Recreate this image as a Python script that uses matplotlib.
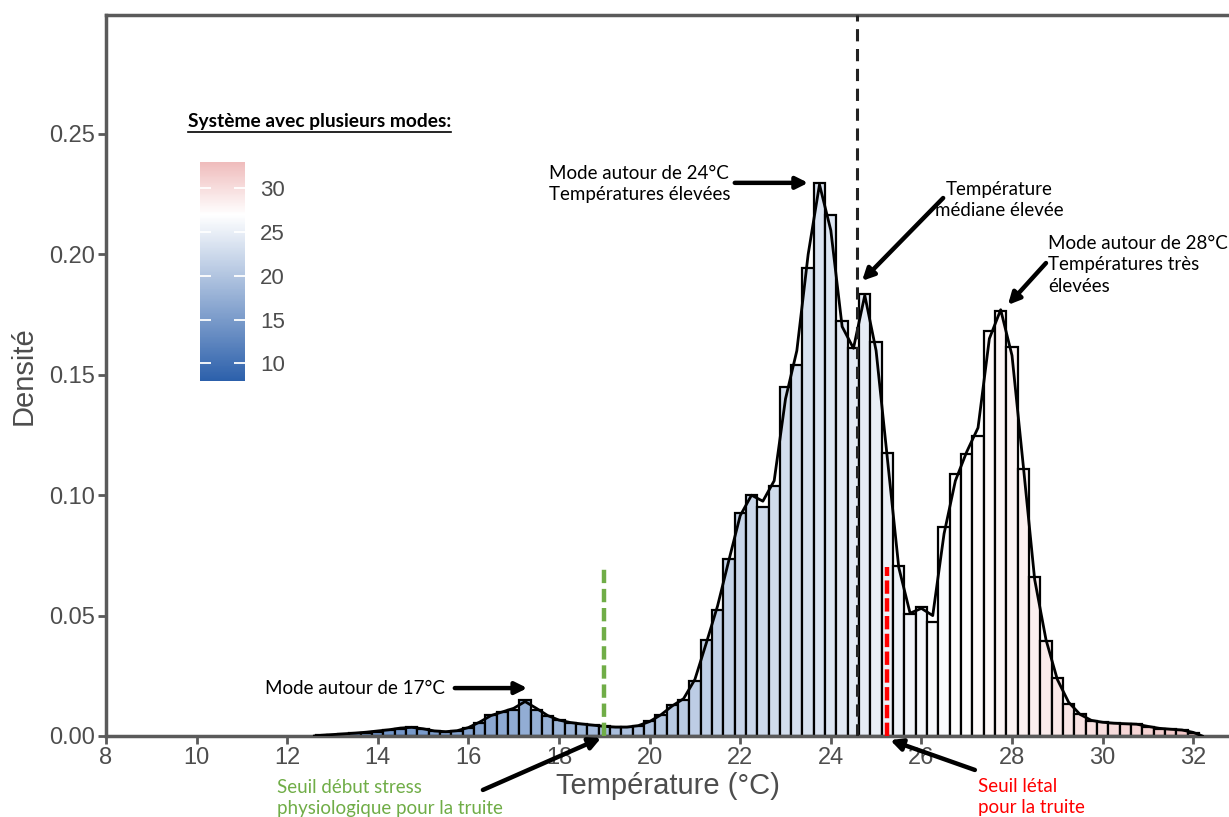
import numpy as np
import matplotlib.pyplot as plt
from matplotlib.colors import LinearSegmentedColormap, Normalize
from matplotlib.cm import ScalarMappable
from matplotlib.lines import Line2D

plt.rcParams['font.family'] = ['Liberation Sans', 'DejaVu Sans']

# histogram bins (width 0.25 °C), bin centres and densities
bin_w = 0.25
centers = np.arange(12.75, 32.0 + 0.01, bin_w)
dens = [0.0004, 0.0006, 0.0008, 0.0011, 0.0014, 0.0018, 0.0024, 0.0030,
        0.0038, 0.0030, 0.0020, 0.0017, 0.0021, 0.0034, 0.0055, 0.0088,
        0.0100, 0.0110, 0.0150, 0.0110, 0.0082, 0.0066, 0.0055, 0.0050,
        0.0046, 0.0042, 0.0036, 0.0036, 0.0042, 0.0064, 0.0088, 0.0130,
        0.0148, 0.0228, 0.0400, 0.0523, 0.0735, 0.0925, 0.1000, 0.0950,
        0.1040, 0.1450, 0.1540, 0.1945, 0.2297, 0.2164, 0.1725, 0.1610,
        0.1835, 0.1635, 0.1175, 0.0704, 0.0508, 0.0536, 0.0474, 0.0868,
        0.1086, 0.1169, 0.1247, 0.1680, 0.1765, 0.1616, 0.1110, 0.0660,
        0.0393, 0.0240, 0.0134, 0.0090, 0.0062, 0.0057, 0.0053, 0.0050,
        0.0050, 0.0038, 0.0030, 0.0027, 0.0026, 0.0014]

# density curve
kde_x = [12.6] + list(centers) + [32.2]
kde_y = [0.0, 0.0003, 0.0006, 0.0009, 0.0012, 0.0016, 0.0021, 0.0026, 0.0033,
         0.0036, 0.0030, 0.0021, 0.0018, 0.0022, 0.0035, 0.0058, 0.0085,
         0.0100, 0.0115, 0.0143, 0.0115, 0.0085, 0.0066, 0.0056, 0.0050,
         0.0045, 0.0040, 0.0037, 0.0037, 0.0043, 0.0060, 0.0088, 0.0125,
         0.0155, 0.0235, 0.0385, 0.0540, 0.0730, 0.0915, 0.1000, 0.0975,
         0.1060, 0.1400, 0.1600, 0.2000, 0.2290, 0.2100, 0.1700, 0.1610,
         0.1830, 0.1600, 0.1150, 0.0700, 0.0510, 0.0530, 0.0500, 0.0840,
         0.1060, 0.1180, 0.1280, 0.1650, 0.1770, 0.1580, 0.1120, 0.0650,
         0.0400, 0.0235, 0.0140, 0.0090, 0.0065, 0.0057, 0.0053, 0.0051,
         0.0049, 0.0040, 0.0032, 0.0028, 0.0025, 0.0015, 0.0]

median_t = 24.57
stress_t = 19.0
lethal_t = 25.25
thr_height = 0.07

fill_ticks = [10, 15, 20, 25, 30]
norm = Normalize(vmin=8, vmax=33)
cmap = LinearSegmentedColormap.from_list(
    'temp', [(0.0, '#2c60ab'), ((27 - 8) / 25, '#ffffff'), (1.0, '#efbcbc')])

grey = '#4d4d4d'
green = '#70ad47'
red = '#ff0000'
note_font = 'Lato'

fig = plt.figure(figsize=(12.29, 8.17), dpi=100)
ax = fig.add_axes([106 / 1229, 81 / 817, 1123 / 1229, 721 / 817])

ax.bar(centers, dens, width=bin_w, color=cmap(norm(centers)),
       edgecolor='black', linewidth=1.6, zorder=2)
ax.plot(kde_x, kde_y, color='black', lw=2.0, zorder=3)

ax.axvline(median_t, color='#222222', lw=2.2, ls=(0, (4, 2.5)), zorder=4)
ax.plot([stress_t, stress_t], [0, thr_height], color=green, lw=3.2,
        ls=(0, (3, 1.3)), zorder=4)
ax.plot([lethal_t, lethal_t], [0, thr_height], color=red, lw=3.2,
        ls=(0, (3, 1.0)), zorder=4)

ax.set_xlim(8, 32.79)
ax.set_ylim(0, 0.2994)
ax.set_xticks(range(8, 33, 2))
ax.set_yticks([0, 0.05, 0.10, 0.15, 0.20, 0.25])
ax.set_yticklabels(['0.00', '0.05', '0.10', '0.15', '0.20', '0.25'])
for s in ['left', 'bottom', 'top']:
    ax.spines[s].set_color('#5a5a5a')
    ax.spines[s].set_linewidth(2.5)
ax.spines['right'].set_visible(False)
ax.tick_params(colors='#5a5a5a', labelcolor=grey, labelsize=17,
               length=6, width=2, pad=2)

ax.set_xlabel('Température (°C)', fontsize=21, color=grey, labelpad=2)
ax.set_ylabel('Densité', fontsize=21, color=grey, labelpad=8)

arrow = dict(arrowstyle='-|>,head_length=0.7,head_width=0.35', lw=3.2,
             color='black', shrinkA=0, shrinkB=0)


def note(x, y, s, color='black', ha='left'):
    ax.text(x, y, s, fontsize=13.5, family=note_font, color=color, ha=ha,
            va='center', linespacing=1.3, multialignment=ha, clip_on=False)


def point(tail, head):
    ax.annotate('', xy=head, xytext=tail, arrowprops=arrow,
                annotation_clip=False)


note(11.51, 0.0199, 'Mode autour de 17°C')
point((15.70, 0.0199), (17.30, 0.0199))

note(17.78, 0.2292, 'Mode autour de 24°C\nTempératures élevées')
point((21.88, 0.2297), (23.50, 0.2297))

note(27.72, 0.2226, 'Température\nmédiane élevée', ha='center')
point((26.48, 0.2234), (24.69, 0.1890))

note(28.80, 0.1956, 'Mode autour de 28°C\nTempératures très\nélevées')
point((28.75, 0.1964), (27.91, 0.1790))

note(11.77, -0.0257, 'Seuil début stress\nphysiologique pour la truite', color=green)
point((16.32, -0.0224), (18.93, -0.0008))

note(27.25, -0.0253, 'Seuil létal\npour la truite', color=red)
point((27.18, -0.0141), (25.31, -0.0017))

# colour legend
cax = fig.add_axes([200 / 1229, (817 - 381) / 817, 45 / 1229, 219 / 817])
cb = fig.colorbar(ScalarMappable(norm=norm, cmap=cmap), cax=cax)
cb.outline.set_visible(False)
cb.set_ticks(fill_ticks)
cax.yaxis.set_ticks_position('both')
cax.tick_params(color='white', direction='in', length=8, width=1.3,
                labelleft=False, labelright=True, labelsize=16,
                labelcolor=grey, pad=11)

title = fig.text(188 / 1229, (817 - 122) / 817, 'Système avec plusieurs modes:',
                 fontsize=13.8, fontweight='bold', family=note_font, va='center')
fig.canvas.draw()
bb = title.get_window_extent().transformed(fig.transFigure.inverted())
fig.add_artist(Line2D([bb.x0, bb.x1], [bb.y0 - 0.002, bb.y0 - 0.002],
                      color='black', lw=1.2, transform=fig.transFigure))

fig.savefig('out.png', dpi=100)
